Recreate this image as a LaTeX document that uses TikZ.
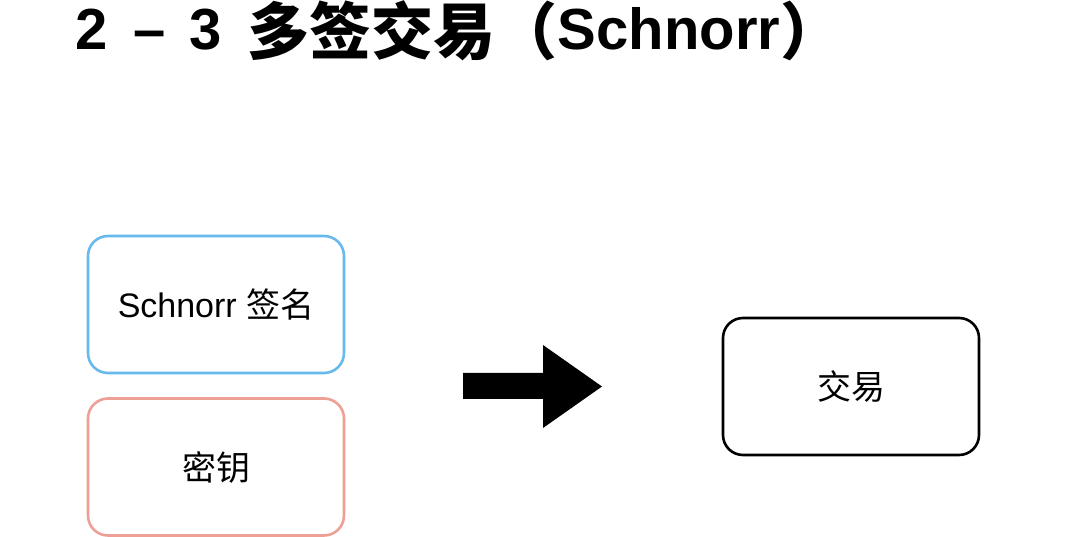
\documentclass[tikz,border=0pt]{standalone}
\usepackage{fontspec}
\setmainfont{Liberation Sans}
\newfontfamily\cjk{Noto Sans CJK SC}
\definecolor{boxblue}{RGB}{104,186,236}
\definecolor{boxred}{RGB}{238,160,150}
\newcommand{\titlecjk}[1]{\raisebox{-5pt}{\cjk\fontsize{62}{66}\selectfont #1}}
\begin{document}
\begin{tikzpicture}[x=1pt,y=-1pt,
  box/.style={draw, rounded corners=20pt, line width=2.6pt, minimum width=256pt, minimum height=137pt, inner sep=0pt, font=\fontsize{34}{40}\selectfont},
  title/.style={font=\fontsize{58}{66}\selectfont\bfseries, inner sep=0pt, anchor=base west}]
\useasboundingbox[fill=white] (0,0) rectangle (1080,537);
\node[title] (t) at (75,50) {2\hspace{26pt}–\hspace{24pt}3\hspace{26pt}\titlecjk{多签交易（}Schnorr\titlecjk{）}};
\node[box, draw=boxblue] (sig) at (216,304.5) {Schnorr {\cjk 签名}};
\node[box, draw=boxred] (key) at (216,467) {\cjk 密钥};
\node[box, draw=black] (tx) at (851,386.5) {\cjk 交易};
\coordinate (a1) at (463,373);
\fill[black] (a1) -- (543,373) -- (543,345) -- (602,386.5) -- (543,428) -- (543,399) -- (463,399) -- cycle;
\end{tikzpicture}
\end{document}
